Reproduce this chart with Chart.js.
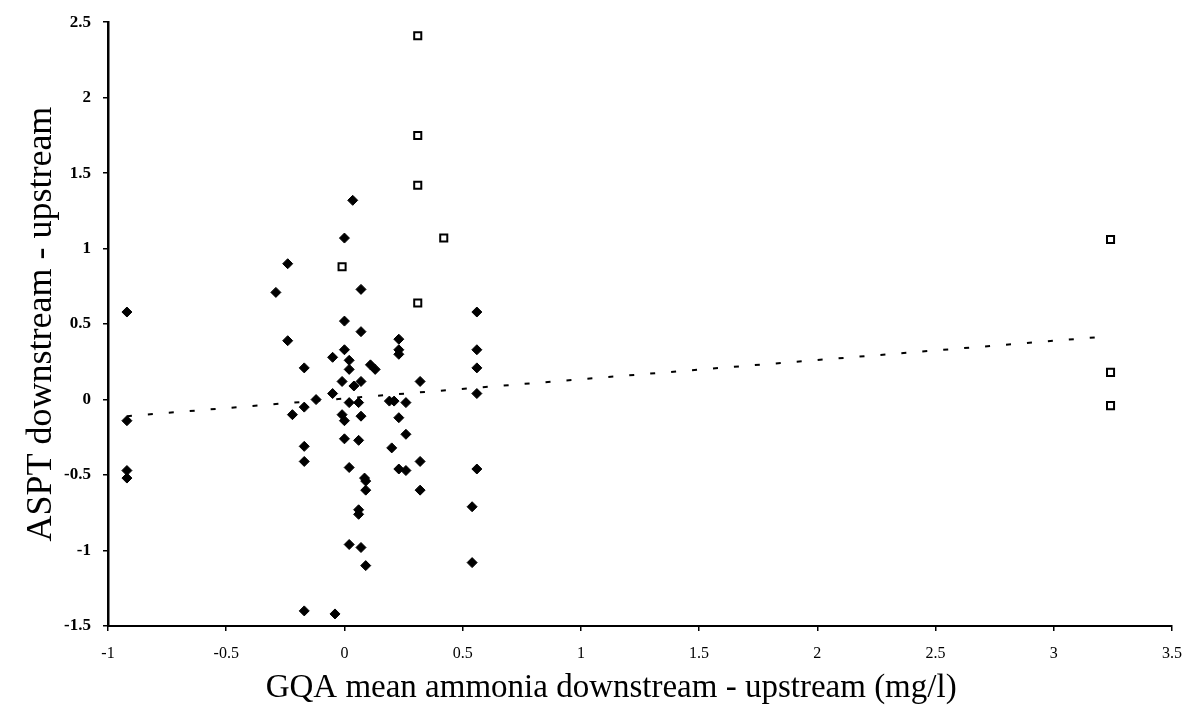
<!DOCTYPE html>
<html>
<head>
<meta charset="utf-8">
<script src="https://cdn.jsdelivr.net/npm/chart.js@4.4.0/dist/chart.umd.min.js"></script>
<style>
    html, body { margin: 0; padding: 0; background: #fff; }
    canvas { display: block; }
</style>
</head>
<body>
<canvas id="chart" width="1192" height="712"></canvas>
<script>
// filled diamonds
const diamondX = [
    -0.92, -0.92, -0.92, -0.92,
    -0.29, -0.24, -0.24, -0.22,
    -0.17, -0.17, -0.17, -0.17, -0.17,
    -0.12, -0.05, -0.05, -0.04,
    -0.01, -0.01, 0.00, 0.00, 0.00, 0.00, 0.00,
    0.02, 0.02, 0.02, 0.02, 0.02,
    0.035, 0.04,
    0.06, 0.06, 0.06, 0.06,
    0.07, 0.07, 0.07, 0.07, 0.07,
    0.085, 0.09, 0.09, 0.09,
    0.11, 0.13,
    0.19, 0.21, 0.20,
    0.23, 0.23, 0.23, 0.23, 0.23,
    0.26, 0.26, 0.26,
    0.32, 0.32, 0.32,
    0.54, 0.54,
    0.56, 0.56, 0.56, 0.56, 0.56
];
const diamondY = [
    0.58, -0.14, -0.47, -0.52,
    0.71, 0.90, 0.39, -0.10,
    0.21, -0.05, -0.31, -0.41, -1.40,
    0.00, 0.28, 0.04, -1.42,
    0.12, -0.10, -0.14, 1.07, 0.52, 0.33, -0.26,
    0.26, -0.02, -0.45, -0.96, 0.20,
    1.32, 0.09,
    -0.02, -0.27, -0.73, -0.76,
    0.73, 0.45, 0.12, -0.11, -0.98,
    -0.52, -0.54, -0.60, -1.10,
    0.23, 0.20,
    -0.01, -0.01, -0.32,
    0.40, 0.33, 0.30, -0.12, -0.46,
    -0.47, -0.02, -0.23,
    0.12, -0.41, -0.60,
    -0.71, -1.08,
    0.58, 0.33, 0.21, 0.04, -0.46
];

// hollow squares
const squareX = [0.31, 0.31, 0.31, 0.31, 0.42, -0.01, 3.24, 3.24, 3.24];
const squareY = [2.41, 1.75, 1.42, 0.64, 1.07, 0.88, 1.06, 0.18, -0.04];

// dotted trend line
const trendX = [-0.92, 3.24];
const trendY = [-0.11, 0.42];

const xTitle = 'GQA mean ammonia downstream - upstream (mg/l)';
const yTitle = 'ASPT downstream - upstream';

const pts = (xs, ys) => xs.map((x, i) => ({ x: x, y: ys[i] }));
const fmt = v => String(Math.round(v * 10) / 10);

const serif = "'Liberation Serif', 'DejaVu Serif', serif";

new Chart(document.getElementById('chart'), {
    type: 'scatter',
    data: {
        datasets: [
            {
                data: pts(trendX, trendY),
                showLine: true,
                borderColor: '#000',
                borderWidth: 2,
                borderDash: [5, 16],
                pointRadius: 0,
                fill: false
            },
            {
                data: pts(diamondX, diamondY),
                pointStyle: 'rectRot',
                pointRadius: 5,
                backgroundColor: '#000',
                borderColor: '#000',
                borderWidth: 1
            },
            {
                data: pts(squareX, squareY),
                pointStyle: 'rect',
                pointRadius: 5,
                backgroundColor: '#fff',
                borderColor: '#000',
                borderWidth: 2
            }
        ]
    },
    options: {
        responsive: false,
        animation: false,
        devicePixelRatio: 1,
        layout: { padding: { top: 15, right: 20, bottom: 0, left: 0 } },
        plugins: { legend: { display: false }, tooltip: { enabled: false } },
        scales: {
            x: {
                type: 'linear',
                min: -1, max: 3.5,
                afterFit: s => { s.height = 86; s.paddingRight = 4; s.paddingLeft = 0; },
                ticks: { stepSize: 0.5, color: '#000', padding: 13, callback: fmt, font: { family: serif, size: 16 } },
                grid: { drawOnChartArea: false, drawTicks: true, tickLength: 5, color: '#000', lineWidth: 1.5 },
                border: { color: '#000', width: 2 },
                // trailing spaces nudge the title left, as in the original
                title: { display: true, text: xTitle + '       ', color: '#000', padding: { top: 4, bottom: 4 }, font: { family: serif, size: 33 } }
            },
            y: {
                type: 'linear',
                min: -1.5, max: 2.5,
                afterFit: s => { s.width = 108; },
                ticks: { stepSize: 0.5, color: '#000', padding: 12, callback: fmt, font: { family: serif, size: 17, weight: 'bold' } },
                grid: { drawOnChartArea: false, drawTicks: true, tickLength: 5, color: '#000', lineWidth: 1.5 },
                border: { color: '#000', width: 2.5 },
                title: { display: true, text: yTitle, color: '#000', padding: { top: 20, bottom: 4 }, font: { family: serif, size: 36 } }
            }
        }
    }
});
</script>
</body>
</html>
